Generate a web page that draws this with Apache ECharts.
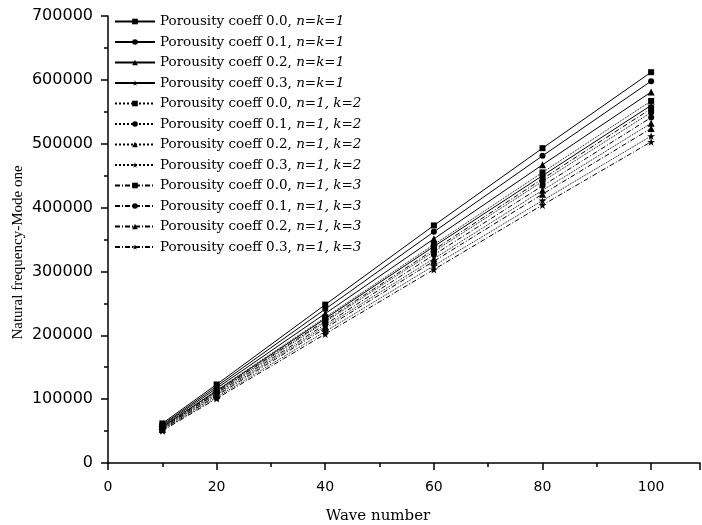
<!DOCTYPE html>
<html><head><meta charset="utf-8">
<script src="https://cdn.jsdelivr.net/npm/echarts@6/dist/echarts.min.js"></script>
<style>html,body{margin:0;padding:0;background:#fff}#c{width:702px;height:525px}</style>
</head><body><div id="c"></div>
<script>
var waveNumbers = [10, 20, 40, 60, 80, 100];
var porosity = ['0.0', '0.1', '0.2', '0.3'];
var caseLabels = ['n=k=1', 'n=1, k=2', 'n=1, k=3'];
// n=k=1
var k1_p00 = [62000, 123000, 248000, 372000, 493000, 612000];
var k1_p01 = [60000, 120000, 241000, 362000, 481000, 598000];
var k1_p02 = [58500, 117000, 234000, 351000, 467000, 581000];
var k1_p03 = [56500, 113000, 226000, 339000, 450000, 560000];
// n=1, k=2
var k2_p00 = [57000, 114000, 228000, 342000, 455000, 567000];
var k2_p01 = [55000, 110500, 221000, 331000, 441000, 549000];
var k2_p02 = [53500, 107000, 214000, 320000, 427000, 532000];
var k2_p03 = [51500, 103000, 206000, 309000, 411000, 512000];
// n=1, k=3
var k3_p00 = [56000, 111500, 223000, 334000, 445000, 555000];
var k3_p01 = [54500, 109000, 217000, 326000, 434000, 541000];
var k3_p02 = [52500, 105500, 211000, 316000, 421000, 524000];
var k3_p03 = [50500, 101000, 202000, 303000, 404000, 503000];
var yTicks = [0, 100000, 200000, 300000, 400000, 500000, 600000, 700000];
var xTicks = [0, 20, 40, 60, 80, 100];

var groups = [[k1_p00, k1_p01, k1_p02, k1_p03], [k2_p00, k2_p01, k2_p02, k2_p03], [k3_p00, k3_p01, k3_p02, k3_p03]];
var STAR = 'path://M50,0 L61,35 L98,35 L68,57 L79,91 L50,70 L21,91 L32,57 L2,35 L39,35 Z';
var symbols = ['rect', 'circle', 'triangle', STAR];
var symSizes = [6, 6, 7, 8];
var lineTypes = ['solid', 'dotted', [5, 2, 1, 2]];

var series = [];
groups.forEach(function (g, gi) {
  g.forEach(function (vals, pi) {
    series.push({
      name: 'Porousity coeff ' + porosity[pi] + ', ' + caseLabels[gi],
      type: 'line',
      data: waveNumbers.map(function (x, i) { return [x, vals[i]]; }),
      symbol: symbols[pi],
      symbolSize: symSizes[pi],
      showAllSymbol: true,
      itemStyle: { color: '#000' },
      lineStyle: { color: '#000', width: 1, type: lineTypes[gi] },
      emphasis: { disabled: true },
      animation: false
    });
  });
});

var chart = echarts.init(document.getElementById('c'));
chart.setOption({
  animation: false,
  backgroundColor: '#fff',
  grid: { left: 108, right: 2, top: 16, bottom: 62, outerBoundsMode: 'none', containLabel: false },
  legend: {
    orient: 'vertical',
    left: 114,
    top: 14,
    padding: 0,
    itemWidth: 40,
    itemHeight: 7,
    itemGap: 5.5,
    data: series.map(function (s) { return s.name; }),
    formatter: function (name) {
      var m = name.match(/^(Porousity coeff \d\.\d, )(.*)$/);
      return '{a|' + m[1] + '}{i|' + m[2] + '}';
    },
    textStyle: {
      color: '#000',
      lineHeight: 15,
      rich: {
        a: { fontFamily: 'DejaVu Serif', fontSize: 13.5, color: '#000', lineHeight: 15 },
        i: { fontFamily: 'DejaVu Serif', fontSize: 13.5, fontStyle: 'italic', color: '#000', lineHeight: 15 }
      }
    }
  },
  xAxis: {
    type: 'value',
    min: 0, max: 109, interval: 20,
    name: 'Wave number',
    nameLocation: 'middle',
    nameGap: 46,
    nameMoveOverlap: false,
    nameTextStyle: { fontFamily: 'DejaVu Serif', fontSize: 15, color: '#000', padding: [0, 52, 0, 0] },
    axisLine: { show: true, onZero: false, lineStyle: { color: '#000', width: 1.5 } },
    axisTick: { show: true, length: 7, lineStyle: { color: '#000', width: 1.5 } },
    minorTick: { show: true, splitNumber: 2, length: 4, lineStyle: { color: '#000', width: 1.5 } },
    axisLabel: { fontFamily: 'DejaVu Sans', fontSize: 14, color: '#000', margin: 17,
      formatter: function (v) { return xTicks.indexOf(v) >= 0 ? String(v) : ''; } },
    splitLine: { show: false }
  },
  yAxis: {
    type: 'value',
    min: 0, max: 700000, interval: 100000,
    name: 'Natural frequency-Mode one',
    nameLocation: 'middle',
    nameGap: 82,
    nameMoveOverlap: false,
    nameTextStyle: { fontFamily: 'Liberation Serif', fontSize: 15, color: '#000', padding: [0, 26, 0, 0] },
    axisLine: { show: true, lineStyle: { color: '#000', width: 1.5 } },
    axisTick: { show: true, length: 7, lineStyle: { color: '#000', width: 1.5 } },
    minorTick: { show: true, splitNumber: 2, length: 4, lineStyle: { color: '#000', width: 1.5 } },
    axisLabel: { fontFamily: 'DejaVu Sans', fontSize: 16, color: '#000', margin: 15,
      formatter: function (v) { return yTicks.indexOf(v) >= 0 ? String(v) : ''; } },
    splitLine: { show: false }
  },
  series: series
});
</script></body></html>
